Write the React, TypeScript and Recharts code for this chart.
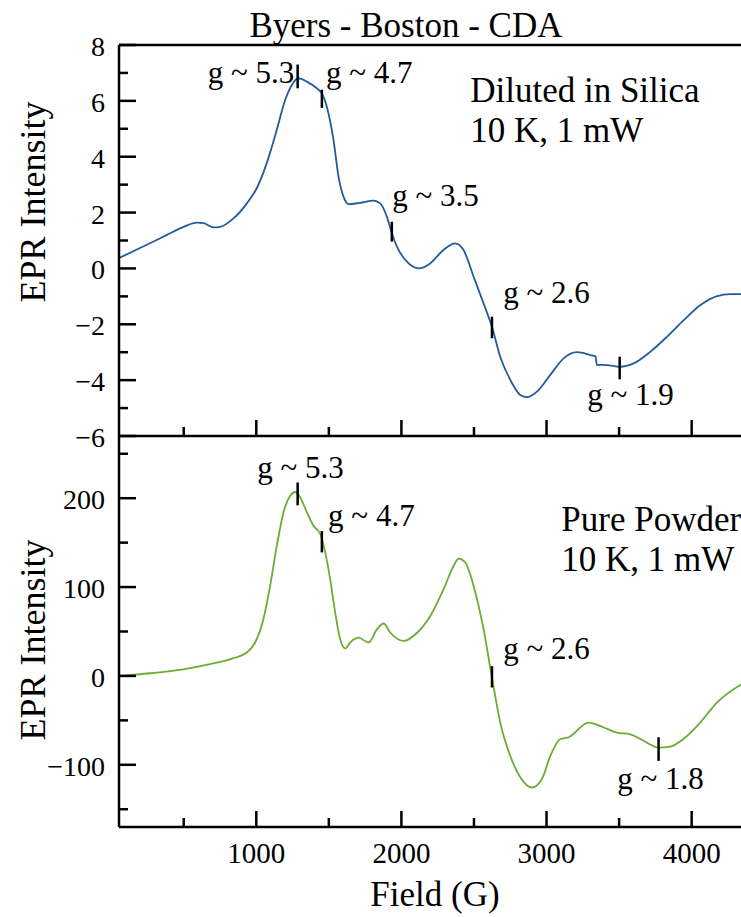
import React from 'react';
import { LineChart, Line, XAxis, YAxis, ReferenceLine, ReferenceDot } from 'recharts';

const FONT = '"Liberation Serif", "Times New Roman", serif';

// Diluted in Silica, 10 K, 1 mW (top panel)
const silicaField = [54, 267, 384, 499, 591, 637, 705, 751, 843, 935, 1003, 1072, 1141, 1199, 1245, 1290, 1348, 1417, 1452, 1486, 1532, 1567, 1601, 1636, 1716, 1808, 1854, 1900, 1934, 1969, 2038, 2118, 2198, 2290, 2370, 2428, 2497, 2566, 2624, 2681, 2750, 2819, 2865, 2934, 3026, 3118, 3210, 3302, 3338, 3346, 3417, 3504, 3600, 3716, 3831, 3946, 4061, 4176, 4267, 4343];
const silicaIntensity = [0.37, 0.9, 1.2, 1.49, 1.64, 1.62, 1.47, 1.49, 1.79, 2.33, 2.87, 3.77, 4.96, 6.03, 6.57, 6.81, 6.69, 6.45, 6.27, 5.79, 4.6, 3.28, 2.57, 2.3, 2.35, 2.43, 2.33, 1.85, 1.26, 0.78, 0.24, 0.0, 0.18, 0.66, 0.9, 0.66, -0.29, -1.25, -2.09, -3.16, -3.99, -4.53, -4.61, -4.41, -3.81, -3.22, -3.0, -3.1, -3.15, -3.45, -3.46, -3.52, -3.4, -2.98, -2.44, -1.85, -1.31, -0.99, -0.92, -0.92];

// Pure Powder, 10 K, 1 mW (bottom panel)
const powderField = [54, 267, 497, 681, 842, 934, 992, 1049, 1095, 1141, 1187, 1233, 1268, 1303, 1349, 1394, 1440, 1475, 1509, 1544, 1578, 1613, 1647, 1705, 1774, 1832, 1878, 1924, 2016, 2108, 2199, 2291, 2360, 2395, 2440, 2498, 2566, 2624, 2681, 2750, 2819, 2899, 2968, 3026, 3095, 3152, 3290, 3394, 3485, 3577, 3669, 3772, 3852, 3943, 4059, 4174, 4343];
const powderIntensity = [0, 3, 7.5, 13.2, 20, 26.4, 37.6, 63.8, 101, 146, 184, 202.6, 207, 200.8, 184, 169, 160, 139, 109, 71, 41.4, 31, 37.6, 43, 37.6, 52.6, 59, 48.6, 39.4, 48.6, 67.5, 97.6, 124, 132, 127.6, 101, 52.6, -1.8, -52.5, -90, -114, -125.6, -116, -90, -71, -69, -52.5, -58, -63.8, -65.7, -73, -80.6, -79.6, -71, -52.5, -30, -9.3];

const fieldTicks = [500, 1000, 1500, 2000, 2500, 3000, 3500, 4000];
const silicaTicks = [-6, -5, -4, -3, -2, -1, 0, 1, 2, 3, 4, 5, 6, 7, 8];
const powderTicks = [-150, -100, -50, 0, 50, 100, 150, 200, 250];

// g-value marks (short vertical bars on the traces)
const silicaMarkField = [1285, 1452, 1934, 2624, 3504];
const silicaMarkLow = [6.45, 5.75, 0.96, -2.5, -3.97];
const silicaMarkHigh = [7.3, 6.4, 1.67, -1.73, -3.16];
const powderMarkField = [1285, 1452, 2624, 3772];
const powderMarkLow = [192, 139, -13, -95.6];
const powderMarkHigh = [217.7, 163, 11, -69];

// g-value labels
const silicaNotes = ['g ~ 5.3', 'g ~ 4.7', 'g ~ 3.5', 'g ~ 2.6', 'g ~ 1.9'];
const silicaNoteField = [1261, 1481, 1937, 2702, 3280];
const silicaNoteY = [6.64, 6.64, 2.24, -1.24, -4.89];
const silicaNoteAnchor = ['end', 'start', 'start', 'start', 'start'];
const powderNotes = ['g ~ 5.3', 'g ~ 4.7', 'g ~ 2.6', 'g ~ 1.8'];
const powderNoteField = [1006, 1495, 2702, 3488];
const powderNoteY = [222.5, 168.5, 18.8, -127.5];

const silicaData = silicaField.map((f, i) => ({ field: f, v: silicaIntensity[i] }));
const powderData = powderField.map((f, i) => ({ field: f, v: powderIntensity[i] }));

const minus = (v: number) => (v < 0 ? '\u2212' + Math.abs(v) : String(v));

const makeYTick = (step: number) => (props: any) => {
  const { x, y, payload } = props;
  const major = payload.value % step === 0;
  return (
    <g>
      <line x1={x} x2={x + (major ? 17 : 9)} y1={y} y2={y} stroke="#000" strokeWidth={2.5} />
      {major && (
        <text x={x - 14} y={y} dy={11} textAnchor="end" fontSize={28} fontFamily={FONT} fill="#000">
          {minus(payload.value)}
        </text>
      )}
    </g>
  );
};

const makeXTick = (showLabel: boolean) => (props: any) => {
  const { x, y, payload } = props;
  const major = payload.value % 1000 === 0;
  return (
    <g>
      <line x1={x} x2={x} y1={y} y2={y - (major ? 16 : 9)} stroke="#000" strokeWidth={2.5} />
      {showLabel && major && (
        <text x={x} y={y + 36} textAnchor="middle" fontSize={29} fontFamily={FONT} fill="#000">
          {payload.value}
        </text>
      )}
    </g>
  );
};

const noteShape = (text: string, anchor: string, size: number, second?: string) => (p: any) => (
  <text x={p.cx} y={p.cy} textAnchor={anchor as any} fontSize={size} fontFamily={FONT} fill="#000">
    <tspan x={p.cx}>{text}</tspan>
    {second && <tspan x={p.cx} dy={size * 1.15}>{second}</tspan>}
  </text>
);

const X_DOMAIN: [number, number] = [54, 4340];
const axisStyle = { stroke: '#000', strokeWidth: 2.5 };

export default function App() {
  return (
    <div style={{ position: 'absolute', left: 0, top: 0, width: 741, height: 917, background: '#fff' }}>
      <div style={{ position: 'absolute', left: 0, top: 0 }}>
        <LineChart width={741} height={480} data={silicaData} margin={{ top: 45, right: 0, bottom: 43, left: 118 }}>
          <XAxis dataKey="field" type="number" domain={X_DOMAIN} allowDataOverflow ticks={fieldTicks} interval={0}
            height={1} tickSize={0} tickMargin={0} tick={makeXTick(false)} axisLine={axisStyle} tickLine={false} />
          <YAxis type="number" domain={[-6, 8]} allowDataOverflow ticks={silicaTicks} interval={0}
            width={1} tickSize={0} tickMargin={0} tick={makeYTick(2)} axisLine={axisStyle} tickLine={false} />
          <ReferenceLine y={8} stroke="#000" strokeWidth={2.5} />
          <Line dataKey="v" type="monotone" stroke="#245a9e" strokeWidth={1.8} dot={false} isAnimationActive={false} />
          {silicaMarkField.map((f, i) => (
            <ReferenceLine key={'m' + i} segment={[{ x: f, y: silicaMarkLow[i] }, { x: f, y: silicaMarkHigh[i] }]} stroke="#000" strokeWidth={2.5} />
          ))}
          {silicaNotes.map((t, i) => (
            <ReferenceDot key={'n' + i} x={silicaNoteField[i]} y={silicaNoteY[i]} r={0}
              shape={noteShape(t, silicaNoteAnchor[i], 31)} />
          ))}
          <ReferenceDot x={2474} y={5.96} r={0} shape={noteShape('Diluted in Silica', 'start', 35, '10 K, 1 mW')} />
          <text x={406} y={37} textAnchor="middle" fontSize={35} fontFamily={FONT} fill="#000">Byers - Boston - CDA</text>
          <text x={45} y={202} transform="rotate(-90 45 202)" textAnchor="middle" fontSize={36} fontFamily={FONT} fill="#000">EPR Intensity</text>
        </LineChart>
      </div>
      <div style={{ position: 'absolute', left: 0, top: 0 }}>
        <LineChart width={741} height={917} data={powderData} margin={{ top: 436, right: 0, bottom: 89, left: 118 }}>
          <XAxis dataKey="field" type="number" domain={X_DOMAIN} allowDataOverflow ticks={fieldTicks} interval={0}
            height={1} tickSize={0} tickMargin={0} tick={makeXTick(true)} axisLine={axisStyle} tickLine={false} />
          <YAxis type="number" domain={[-170, 270]} allowDataOverflow ticks={powderTicks} interval={0}
            width={1} tickSize={0} tickMargin={0} tick={makeYTick(100)} axisLine={axisStyle} tickLine={false} />
          <Line dataKey="v" type="monotone" stroke="#6aad33" strokeWidth={1.8} dot={false} isAnimationActive={false} />
          {powderMarkField.map((f, i) => (
            <ReferenceLine key={'m' + i} segment={[{ x: f, y: powderMarkLow[i] }, { x: f, y: powderMarkHigh[i] }]} stroke="#000" strokeWidth={2.5} />
          ))}
          {powderNotes.map((t, i) => (
            <ReferenceDot key={'n' + i} x={powderNoteField[i]} y={powderNoteY[i]} r={0}
              shape={noteShape(t, 'start', 31)} />
          ))}
          <ReferenceDot x={3102} y={162.9} r={0} shape={noteShape('Pure Powder', 'start', 35, '10 K, 1 mW')} />
          <text x={45} y={640} transform="rotate(-90 45 640)" textAnchor="middle" fontSize={36} fontFamily={FONT} fill="#000">EPR Intensity</text>
          <text x={435} y={906} textAnchor="middle" fontSize={35} fontFamily={FONT} fill="#000">Field (G)</text>
        </LineChart>
      </div>
    </div>
  );
}
